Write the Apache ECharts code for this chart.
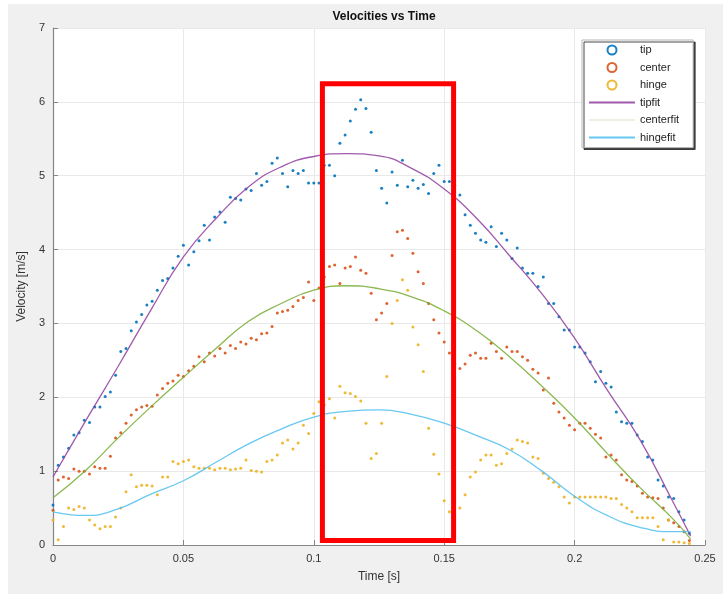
<!DOCTYPE html>
<html>
<head>
<meta charset="utf-8">
<script src="https://cdn.jsdelivr.net/npm/echarts/dist/echarts.min.js"></script>
<style>
  html, body { margin: 0; padding: 0; background: #ffffff; }
  #chart { width: 723px; height: 594px; }
</style>
</head>
<body>
<div id="chart"></div>
<script>
// Sample times of the measured velocities, in milliseconds
const sampleTimeMs = [
  0, 2, 4, 6, 8, 10, 12, 14, 16, 18, 20, 22, 24, 26, 28, 30, 32, 34, 36, 38,
  40, 42, 44, 46, 48, 50, 52, 54, 56, 58, 60, 62, 64, 66, 68, 70, 72, 74, 76, 78,
  80, 82, 84, 86, 88, 90, 92, 94, 96, 98, 100, 102, 104, 106, 108, 110, 112, 114, 116, 118,
  120, 122, 124, 126, 128, 130, 132, 134, 136, 138, 140, 142, 144, 146, 148, 150, 152, 154, 156, 158,
  160, 162, 164, 166, 168, 170, 172, 174, 176, 178, 180, 182, 184, 186, 188, 190, 192, 194, 196, 198,
  200, 202, 204, 206, 208, 210, 212, 214, 216, 218, 220, 222, 224, 226, 228, 230, 232, 234, 236, 238,
  240, 242, 244
];

// Measured velocities [m/s]
const tipVelocity = [
  0.54, 1.08, 1.19, 1.31, 1.49, 1.52, 1.69, 1.66, 1.87, 1.87, 2.01, 2.07, 2.30, 2.62, 2.66, 2.90, 3.02, 3.12, 3.25, 3.30,
  3.45, 3.58, 3.61, 3.75, 3.91, 4.06, 3.79, 3.97, 4.12, 4.33, 4.13, 4.44, 4.51, 4.37, 4.71, 4.69, 4.67, 4.82, 4.80, 5.03,
  4.87, 4.92, 5.17, 5.24, 5.03, 4.85, 5.07, 5.03, 5.07, 4.90, 4.90, 4.90, 5.14, 5.14, 5.00, 5.44, 5.55, 5.74, 5.90, 6.03,
  5.91, 5.59, 5.07, 4.83, 4.63, 5.05, 4.87, 5.21, 4.85, 4.94, 4.83, 4.88, 4.76, 5.03, 5.14, 4.92, 4.92, 4.87, 4.74, 4.47,
  4.33, 4.22, 4.13, 4.10, 4.31, 4.04, 4.22, 4.13, 3.88, 4.02, 3.75, 3.68, 3.68, 3.50, 3.63, 3.27, 3.27, 3.09, 2.91, 2.91,
  2.68, 2.68, 2.60, 2.48, 2.21, 2.35, 2.19, 2.14, 1.80, 1.67, 1.65, 1.65, 1.49, 1.40, 1.19, 1.15, 0.88, 0.80, 0.65, 0.63,
  0.45, 0.34, 0.16
];
const centerVelocity = [
  0.47, 0.88, 0.92, 0.90, 1.03, 1.00, 1.00, 0.96, 1.06, 1.04, 1.04, 1.20, 1.45, 1.52, 1.65, 1.76, 1.83, 1.87, 1.89, 1.88,
  2.03, 2.12, 2.19, 2.22, 2.30, 2.28, 2.36, 2.42, 2.55, 2.48, 2.60, 2.56, 2.66, 2.60, 2.70, 2.66, 2.75, 2.72, 2.80, 2.78,
  2.86, 2.87, 2.96, 3.14, 3.16, 3.18, 3.23, 3.31, 3.35, 3.56, 3.31, 3.48, 3.63, 3.77, 3.79, 3.54, 3.75, 3.77, 3.90, 3.72,
  3.68, 3.41, 3.05, 3.14, 3.27, 3.92, 4.24, 4.26, 4.15, 3.95, 3.70, 3.54, 3.27, 3.05, 2.87, 2.75, 2.60, 2.46, 2.39, 2.45,
  2.57, 2.60, 2.53, 2.53, 2.73, 2.62, 2.53, 2.68, 2.62, 2.62, 2.55, 2.50, 2.38, 2.33, 2.10, 2.26, 1.92, 1.80, 1.72, 1.62,
  1.56, 1.65, 1.65, 1.58, 1.50, 1.45, 1.19, 1.22, 1.15, 0.95, 0.88, 0.86, 0.80, 0.70, 0.65, 0.64, 0.63, 0.50, 0.34, 0.30,
  0.25, 0.18, 0.06
];
const hingeVelocity = [
  0.34, 0.07, 0.25, 0.50, 0.48, 0.52, 0.50, 0.34, 0.27, 0.22, 0.25, 0.25, 0.38, 0.50, 0.72, 0.95, 0.79, 0.81, 0.81, 0.80,
  0.68, 0.92, 0.92, 1.13, 1.10, 1.13, 1.15, 1.06, 1.04, 1.04, 1.04, 1.02, 1.04, 1.04, 1.02, 1.03, 1.04, 1.15, 1.01, 1.00,
  0.99, 1.13, 1.15, 1.22, 1.38, 1.42, 1.30, 1.38, 1.62, 1.51, 1.78, 1.94, 1.90, 1.98, 1.72, 2.15, 2.06, 2.05, 2.01, 1.95,
  1.65, 1.17, 1.24, 1.65, 2.28, 3.00, 3.31, 3.59, 3.45, 2.95, 2.71, 2.35, 1.58, 1.23, 0.96, 0.60, 0.45, 0.34, 0.50, 0.68,
  0.92, 0.99, 1.15, 1.22, 1.22, 1.08, 1.10, 1.24, 1.30, 1.42, 1.40, 1.38, 1.19, 1.17, 0.97, 0.90, 0.85, 0.79, 0.65, 0.57,
  0.65, 0.65, 0.65, 0.65, 0.65, 0.65, 0.65, 0.63, 0.63, 0.55, 0.50, 0.45, 0.37, 0.37, 0.37, 0.37, 0.25, 0.07, 0.34, 0.04,
  0.04, 0.03, 0.02
];

// Fitted curves, evaluated at these times (ms)
const fitTimeMs = [0, 12.5, 25, 37.5, 50, 62.5, 75, 87.5, 100, 112.5, 125, 137.5, 150, 162.5, 175, 187.5, 200, 212.5, 225, 237.5, 244.5];
const tipFit    = [0.92, 1.68, 2.42, 3.18, 3.90, 4.42, 4.85, 5.12, 5.26, 5.30, 5.27, 5.10, 4.82, 4.42, 3.92, 3.40, 2.80, 2.10, 1.43, 0.60, 0.12];
const centerFit = [0.64, 1.01, 1.45, 1.87, 2.27, 2.66, 3.03, 3.27, 3.45, 3.51, 3.47, 3.36, 3.17, 2.90, 2.55, 2.15, 1.72, 1.24, 0.78, 0.36, 0.08];
const hingeFit  = [0.45, 0.40, 0.49, 0.69, 0.87, 1.12, 1.37, 1.57, 1.73, 1.81, 1.83, 1.77, 1.65, 1.48, 1.29, 1.00, 0.66, 0.40, 0.24, 0.18, 0.18];

// Highlighted time window [s] and velocity span [m/s]
const windowTime = [0.1033, 0.1536];
const windowVelocity = [0.06, 6.245];

// Axis ticks
const xTicks = [0, 0.05, 0.1, 0.15, 0.2, 0.25];
const yTicks = [0, 1, 2, 3, 4, 5, 6, 7];

const FONT = '"Liberation Sans", Arial, Helvetica, sans-serif';
const COLORS = {
  tip: '#0072BD', center: '#D95319', hinge: '#EDB120',
  tipfit: '#8e3d9e', centerfit: '#77AC30', hingefit: '#4DBEEE'
};

const pairs = (ts, vs, scale) => ts.map((t, i) => [t / scale, vs[i]]);

const chart = echarts.init(document.getElementById('chart'), null, { renderer: 'canvas' });

const axisCommon = {
  type: 'value',
  axisLine: { show: true, onZero: false, lineStyle: { color: '#858585', width: 1.2 } },
  axisTick: { show: true, inside: true, length: 5, lineStyle: { color: '#858585', width: 1 } },
  splitLine: { show: true, lineStyle: { color: '#e9e9e9', width: 1 } },
  nameLocation: 'middle',
  nameTextStyle: { fontFamily: FONT, fontSize: 12, color: '#333' }
};

const scatter = (name, ys) => ({
  name, type: 'scatter',
  data: pairs(sampleTimeMs, ys, 1000),
  symbol: 'circle', symbolSize: 3,
  itemStyle: { color: COLORS[name], opacity: 0.9 },
  emphasis: { disabled: true }
});
const fit = (name, ys) => ({
  name, type: 'line',
  data: pairs(fitTimeMs, ys, 1000),
  smooth: true, symbol: 'none',
  lineStyle: { color: COLORS[name], width: 1.3, opacity: 0.85 },
  itemStyle: { color: COLORS[name] },
  emphasis: { disabled: true }
});

const hingeFitSeries = fit('hingefit', hingeFit);
hingeFitSeries.markArea = {
  silent: true,
  z: 10,
  itemStyle: { color: 'rgba(0,0,0,0)', borderColor: '#ff0000', borderWidth: 5 },
  data: [[
    { coord: [windowTime[0], windowVelocity[1]] },
    { coord: [windowTime[1], windowVelocity[0]] }
  ]]
};

// Legend rows for the fitted curves show only their line
const lineOnly = { opacity: 0 };

chart.setOption({
  animation: false,
  backgroundColor: '#ffffff',
  textStyle: { fontFamily: FONT },
  graphic: [{
    type: 'rect', z: -100, silent: true,
    shape: { x: 8, y: 4, width: 715, height: 590 },
    style: { fill: '#f0f0f0' }
  }],
  title: {
    text: 'Velocities vs Time',
    left: 379, top: 6, textAlign: 'center',
    textStyle: { fontFamily: FONT, fontSize: 12, fontWeight: 'bold', color: '#111' }
  },
  grid: {
    left: 53, right: 18, top: 28, bottom: 49,
    show: true, backgroundColor: '#ffffff', borderWidth: 0
  },
  xAxis: Object.assign({}, axisCommon, {
    min: xTicks[0], max: xTicks[xTicks.length - 1], interval: xTicks[1] - xTicks[0],
    name: 'Time [s]', nameGap: 26,
    axisLabel: {
      fontFamily: FONT, fontSize: 11, color: '#333', margin: 8,
      formatter: v => String(+v.toFixed(2))
    }
  }),
  yAxis: Object.assign({}, axisCommon, {
    min: yTicks[0], max: yTicks[yTicks.length - 1], interval: yTicks[1] - yTicks[0],
    name: 'Velocity [m/s]', nameGap: 18,
    axisLabel: { fontFamily: FONT, fontSize: 11, color: '#333', margin: 8 }
  }),
  legend: {
    orient: 'vertical',
    left: 582, top: 40,
    padding: [4, 14, 4, 6],
    itemWidth: 46, itemHeight: 9, itemGap: 5.5,
    backgroundColor: '#ffffff',
    borderColor: '#b5b5b5', borderWidth: 1,
    shadowColor: 'rgba(40,40,40,0.85)', shadowOffsetX: 2, shadowOffsetY: 2, shadowBlur: 0,
    textStyle: { fontFamily: FONT, fontSize: 11, color: '#222', lineHeight: 12 },
    selectedMode: false,
    data: [
      { name: 'tip', icon: 'emptyCircle', itemStyle: { borderWidth: 1 } },
      { name: 'center', icon: 'emptyCircle', itemStyle: { borderWidth: 1 } },
      { name: 'hinge', icon: 'emptyCircle', itemStyle: { borderWidth: 1 } },
      { name: 'tipfit', itemStyle: lineOnly },
      { name: 'centerfit', itemStyle: lineOnly, lineStyle: { color: '#f1eee4', opacity: 1 } },
      { name: 'hingefit', itemStyle: lineOnly }
    ]
  },
  series: [
    scatter('tip', tipVelocity),
    scatter('center', centerVelocity),
    scatter('hinge', hingeVelocity),
    fit('tipfit', tipFit),
    fit('centerfit', centerFit),
    hingeFitSeries
  ]
});
</script>
</body>
</html>
